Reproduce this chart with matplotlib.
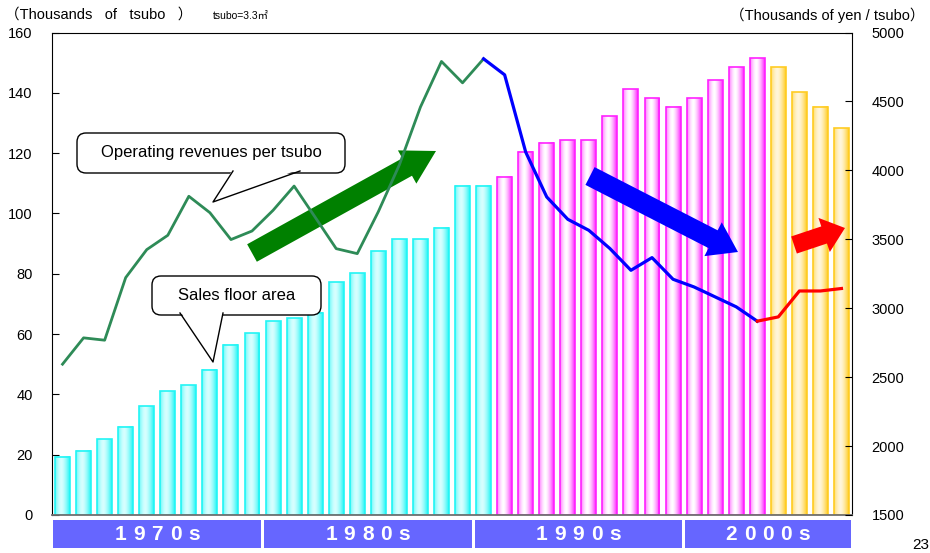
import matplotlib

matplotlib.use('Agg')
import matplotlib.pyplot as plt
import matplotlib.transforms as mtransforms
import numpy as np
from matplotlib.colors import to_rgb
from matplotlib.patches import FancyBboxPatch, Polygon, FancyArrow, Rectangle

plt.rcParams['font.family'] = ['Liberation Sans', 'Noto Sans CJK JP', 'DejaVu Sans']

# ---- data ----
years = list(range(1970, 2008))

# sales floor area, thousands of tsubo
floor_area = [19.3, 21.3, 25.2, 29.3, 36.1, 41.1, 43.0, 48.1, 56.4, 60.2,
              64.2, 65.2, 67.1, 77.2, 80.1, 87.4, 91.4, 91.4, 95.3, 109.2,
              109.2, 112.2, 120.5, 123.4, 124.3, 124.3, 132.3, 141.1, 138.2, 135.3,
              138.2, 144.2, 148.4, 151.4, 148.4, 140.2, 135.3, 128.3]

# operating revenues per tsubo, thousands of yen
revenue_per_tsubo = [2594, 2785, 2768, 3222, 3425, 3529, 3812, 3693, 3498, 3560,
                     3710, 3886, 3660, 3432, 3396, 3700, 4040, 4459, 4790, 4635,
                     4809, 4693, 4133, 3807, 3645, 3565, 3433, 3275, 3367, 3210,
                     3154, 3082, 3010, 2906, 2937, 3125, 3125, 3143]

decades = ['1970s', '1980s', '1990s', '2000s']
growth_end = 1990    # last year of the growth phase
decline_end = 2003   # last year of the decline phase

left_ticks = list(range(0, 161, 20))
right_ticks = list(range(1500, 5001, 500))

# (edge colour, centre colour) of the shaded bars per phase
bar_shades = {'growth': ('#22f5f5', '#d8ffff'),
              'decline': ('#ff22ff', '#ffffff'),
              'recovery': ('#ffcc22', '#fff6dc')}
line_colors = {'growth': '#2e8b57', 'decline': '#0000ff', 'recovery': '#ff0000'}


def phase(year):
    if year <= growth_end:
        return 'growth'
    if year <= decline_end:
        return 'decline'
    return 'recovery'


def shade_bar(ax, bar, edge, centre):
    """Fill a bar with a horizontal cylinder-like gradient."""
    x0, y0 = bar.get_x(), bar.get_y()
    w, h = bar.get_width(), bar.get_height()
    t = np.linspace(0, 1, 40)
    k = np.clip(np.abs(t - 0.42) / 0.58, 0, 1) ** 1.6
    rgb = (1 - k)[:, None] * np.array(to_rgb(centre)) + k[:, None] * np.array(to_rgb(edge))
    ax.imshow(rgb[None, :, :], extent=[x0, x0 + w, y0, y0 + h], aspect='auto',
              interpolation='bilinear', zorder=1)


def callout(ax, box, base, tip, text):
    """Speech-bubble label in pixel coordinates."""
    x0, y0, x1, y1 = box
    ax.add_patch(FancyBboxPatch((x0 + 8, y0 + 4), x1 - x0 - 16, y1 - y0 - 8,
                                boxstyle='round,pad=6,rounding_size=9',
                                facecolor='white', edgecolor='black', linewidth=1.0, zorder=3))
    ax.add_patch(Polygon([(base[0], y1 - 2), tip, (base[1], y1 - 2)], closed=True,
                         facecolor='white', edgecolor='none', zorder=4))
    ax.plot([base[0], tip[0], base[1]], [y1, tip[1], y1], color='black', linewidth=1.0, zorder=5)
    ax.text((x0 + x1) / 2, (y0 + y1) / 2, text, ha='center', va='center', fontsize=12, zorder=6)


def pixel_overlay(fig, z):
    ov = fig.add_axes([0, 0, 1, 1], facecolor='none')
    ov.set_xlim(0, 930)
    ov.set_ylim(553, 0)
    ov.axis('off')
    ov.set_zorder(z)
    return ov


fig = plt.figure(figsize=(9.3, 5.53), dpi=100)
ax = fig.add_axes([52 / 930, 38 / 553, 800 / 930, 482.5 / 553])
ax2 = ax.twinx()
ax2.set_zorder(2)

x = np.arange(len(years))
phases = [phase(y) for y in years]

# bars: sales floor area
bars = ax.bar(x, floor_area, width=0.71, facecolor='none',
              edgecolor=[bar_shades[p][0] for p in phases], linewidth=1.2, zorder=2)
for bar, p in zip(bars, phases):
    shade_bar(ax, bar, *bar_shades[p])

ax.set_xlim(-0.5, len(years) - 0.5)
ax.set_ylim(0, 160)
ax.set_yticks(left_ticks)
ax.set_xticks([])
ax.tick_params(axis='y', direction='in', length=5, pad=14, labelsize=10.5)
for side in ['left', 'top', 'right']:
    ax.spines[side].set_color('black')
ax.spines['bottom'].set_color('#707070')
ax.spines['bottom'].set_linewidth(1.3)

# lines: operating revenues per tsubo, coloured by phase
rev = np.array(revenue_per_tsubo)
i_growth = years.index(growth_end)
i_decline = years.index(decline_end)
ax2.plot(x[:i_growth + 1], rev[:i_growth + 1], color=line_colors['growth'], linewidth=2.0)
ax2.plot(x[i_growth:i_decline + 1], rev[i_growth:i_decline + 1], color=line_colors['decline'],
         linewidth=2.3)
ax2.plot(x[i_decline:], rev[i_decline:], color=line_colors['recovery'], linewidth=2.3)
ax2.set_ylim(1500, 5000)
ax2.set_yticks(right_ticks)
ax2.tick_params(axis='y', direction='in', length=5, pad=14, labelsize=10.5)
ax2.set_xlim(-0.5, len(years) - 0.5)
for s in ax2.spines.values():
    s.set_visible(False)

# decade strip under the axis
strip = mtransforms.blended_transform_factory(ax.transData, ax.transAxes)
pitch = 0.87
for d in decades:
    start = int(d[:4])
    idx = [i for i, y in enumerate(years) if start <= y <= start + 9]
    lo, hi = idx[0] - 0.5 + 0.07, idx[-1] + 0.5 - 0.07
    ax.add_patch(Rectangle((lo, -0.0684), hi - lo, 0.058, transform=strip,
                           facecolor='#6666ff', edgecolor='none', clip_on=False))
    c = (idx[0] + idx[-1]) / 2
    for k, ch in enumerate(d):
        ax.text(c + (k - (len(d) - 1) / 2) * pitch, -0.04, ch, transform=strip,
                ha='center', va='center', color='white', fontsize=15, fontweight='bold',
                clip_on=False)

# trend arrows sit between the bars and the lines
arrows = pixel_overlay(fig, 1)
arrows.add_patch(FancyArrow(252, 253, 184, -102, width=20, head_width=38, head_length=33,
                            length_includes_head=True, color='#008000', linewidth=0))
arrows.add_patch(FancyArrow(590, 176, 148, 76, width=20, head_width=38, head_length=28,
                            length_includes_head=True, color='#0000ff', linewidth=0))
arrows.add_patch(FancyArrow(794, 245, 51, -17, width=18, head_width=36, head_length=22,
                            length_includes_head=True, color='#ff0000', linewidth=0))

# labels and callouts on top
ov = pixel_overlay(fig, 3)
ov.text(5, 15, '（Thousands   of   tsubo   ）', ha='left', va='center', fontsize=10.5)
ov.text(213, 16, 'tsubo=3.3㎡', ha='left', va='center', fontsize=7.5)
ov.text(924, 15, '（Thousands of yen / tsubo）', ha='right', va='center', fontsize=10.5)
ov.text(921, 545, '23', ha='center', va='center', fontsize=11)

callout(ov, (75, 135, 347, 171), (233, 300), (213, 202), 'Operating revenues per tsubo')
callout(ov, (150, 278, 323, 313), (180, 223), (213, 362), 'Sales floor area')

plt.savefig('out.png', dpi=100)
plt.close()
